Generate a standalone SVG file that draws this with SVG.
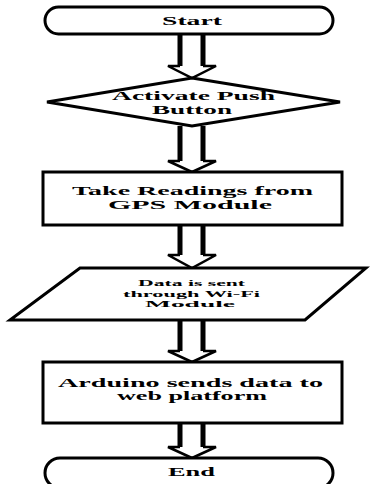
<svg xmlns="http://www.w3.org/2000/svg" width="370" height="484" viewBox="0 0 370 484">
<style>
.shape{fill:#fff;stroke:#000;stroke-width:3;stroke-linejoin:miter}
.t{font-family:"Liberation Serif","Times New Roman",serif;font-weight:bold;fill:#000}
.m{font-size:11.5px}
.s{font-size:9px}
.shaft{stroke:#000;stroke-width:5;fill:none}
.head{fill:#fff;stroke:#000;stroke-width:2.5;stroke-linejoin:miter}
</style>
<rect width="370" height="484" fill="#fff"/>
<g id="connectors">
  <g id="a1"><path class="head" d="M180,66 H168 L192,78 L216,66 H203"/><path class="shaft" d="M180,34 V66 M203,34 V66"/></g>
  <g id="a2"><path class="head" d="M180,161 H168 L192,172 L216,161 H203"/><path class="shaft" d="M180,126 V161 M203,126 V161"/></g>
  <g id="a3"><path class="head" d="M180,255 H168 L192,268 L216,255 H203"/><path class="shaft" d="M180,225 V255 M203,225 V255"/></g>
  <g id="a4"><path class="head" d="M180,351 H168 L192,362 L216,351 H203"/><path class="shaft" d="M180,320 V351 M203,320 V351"/></g>
  <g id="a5"><path class="head" d="M180,447 H168 L192,458 L216,447 H203"/><path class="shaft" d="M180,423 V447 M203,423 V447"/></g>
</g>
<g id="start">
  <rect class="shape" x="45" y="7" width="288" height="27" rx="13.5"/>
  <text class="t m" x="162" y="25" textLength="60" lengthAdjust="spacingAndGlyphs">Start</text>
</g>
<g id="activate">
  <polygon class="shape" points="192,78 340,102 192,126 47,102"/>
  <text class="t m" x="112" y="100" textLength="163" lengthAdjust="spacingAndGlyphs">Activate Push</text>
  <text class="t m" x="152" y="114" textLength="80" lengthAdjust="spacingAndGlyphs">Button</text>
</g>
<g id="readings">
  <rect class="shape" x="43" y="172" width="299" height="53"/>
  <text class="t m" x="72" y="195" textLength="241" lengthAdjust="spacingAndGlyphs">Take Readings from</text>
  <text class="t m" x="108" y="209" textLength="164" lengthAdjust="spacingAndGlyphs">GPS Module</text>
</g>
<g id="wifi">
  <polygon class="shape" points="80,268 366,268 305,320 10,320"/>
  <text class="t s" x="138" y="286" textLength="107" lengthAdjust="spacingAndGlyphs">Data is sent</text>
  <text class="t s" x="123" y="296.5" textLength="137" lengthAdjust="spacingAndGlyphs">through Wi-Fi</text>
  <text class="t s" x="145" y="307" textLength="90" lengthAdjust="spacingAndGlyphs">Module</text>
</g>
<g id="arduino">
  <rect class="shape" x="43" y="362" width="299" height="61"/>
  <text class="t m" x="58" y="387" textLength="265" lengthAdjust="spacingAndGlyphs">Arduino sends data to</text>
  <text class="t m" x="117" y="400" textLength="150" lengthAdjust="spacingAndGlyphs">web platform</text>
</g>
<g id="end">
  <rect class="shape" x="45" y="458" width="288" height="30" rx="15"/>
  <text class="t m" x="168" y="476" textLength="47" lengthAdjust="spacingAndGlyphs">End</text>
</g>
</svg>
